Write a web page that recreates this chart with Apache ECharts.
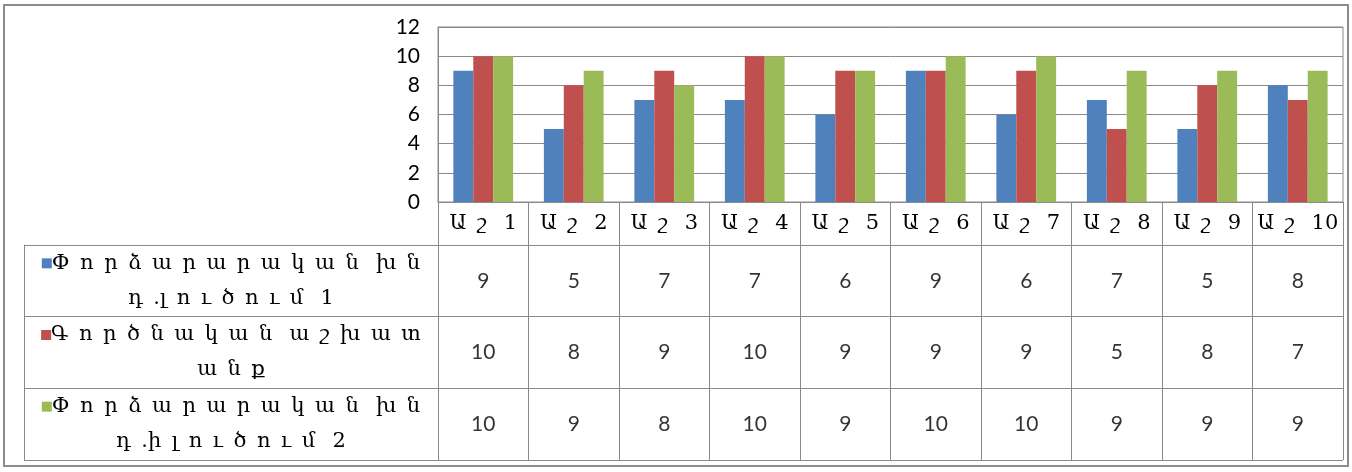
<!DOCTYPE html>
<html>
<head>
<meta charset="utf-8">
<script src="https://cdn.jsdelivr.net/npm/echarts@6/dist/echarts.min.js"></script>
<style>
  html, body { margin: 0; padding: 0; background: #fff; }
  #chart { width: 1352px; height: 472px; }
</style>
</head>
<body>
<div id="chart"></div>
<script>
// Categories (student groups) and the three score series
const categories = ['Աշ 1', 'Աշ 2', 'Աշ 3', 'Աշ 4', 'Աշ 5', 'Աշ 6', 'Աշ 7', 'Աշ 8', 'Աշ 9', 'Աշ 10'];
const seriesNames = [
  'Փորձարարական խն\nդ.լուծում 1',
  'Գործնական աշխատ\nանք',
  'Փորձարարական խն\nդ.իլուծում 2'
];
const experiment1 = [9, 5, 7, 7, 6, 9, 6, 7, 5, 8];
const practical = [10, 8, 9, 10, 9, 9, 9, 5, 8, 7];
const experiment2 = [10, 9, 8, 10, 9, 10, 10, 9, 9, 9];
const yTicks = [0, 2, 4, 6, 8, 10, 12];

const colors = ['#4F81BD', '#C0504D', '#9BBB59'];
const lineColor = '#8a8a8a';
const numFont = 'Lato, "DejaVu Serif"';
const armFont = '"DejaVu Serif", Lato';

// Spread Armenian letters apart the way the original font lays them out
function spread(s) {
  return s.replace(/ /g, '\u2002 ').replace(/([\u0531-\u058F])(?=[^\s\u2002])/g, '$1\u2002');
}

const allValues = [experiment1, practical, experiment2];

// Table cells: one point per (category, series) holding the value
const tableData = [];
allValues.forEach(function (vals, i) {
  vals.forEach(function (v, j) {
    tableData.push([categories[j], seriesNames[i], v]);
  });
});

const rich = { txt: { fontFamily: armFont, fontSize: 21, color: '#000', lineHeight: 35 } };
colors.forEach(function (c, i) {
  rich['s' + i] = { width: 10, height: 10, backgroundColor: c };
});

const chart = echarts.init(document.getElementById('chart'), null, { renderer: 'canvas' });

chart.setOption({
  animation: false,
  backgroundColor: '#fff',
  grid: [
    { left: 438, right: 9, top: 27, height: 175, show: true, borderColor: lineColor, borderWidth: 1 },
    { left: 438, right: 9, top: 245, height: 215 }
  ],
  xAxis: [
    {
      gridIndex: 0, type: 'category', data: categories,
      axisLine: { lineStyle: { color: lineColor } },
      axisTick: { show: true, interval: 0, length: 43, lineStyle: { color: lineColor } },
      axisLabel: {
        interval: 0, margin: 11, fontSize: 21, color: '#000', fontFamily: armFont,
        formatter: function (v) { return spread(v); }
      }
    },
    {
      gridIndex: 1, type: 'category', data: categories,
      axisLine: { show: false }, axisTick: { show: false }, axisLabel: { show: false },
      splitLine: { show: true, interval: 0, lineStyle: { color: lineColor } }
    }
  ],
  yAxis: [
    {
      gridIndex: 0, type: 'value', min: yTicks[0], max: yTicks[yTicks.length - 1], interval: 2,
      axisLine: { show: true, lineStyle: { color: lineColor } },
      axisTick: { show: false },
      splitLine: { show: true, lineStyle: { color: lineColor } },
      axisLabel: { margin: 18, fontSize: 21, color: '#000', fontFamily: numFont }
    },
    {
      gridIndex: 1, type: 'category', data: seriesNames, inverse: true,
      axisLine: { show: true, lineStyle: { color: lineColor } },
      axisTick: { show: true, interval: 0, length: 414, lineStyle: { color: lineColor } },
      splitLine: { show: true, interval: 0, lineStyle: { color: lineColor } },
      axisLabel: {
        interval: 0, margin: 207, align: 'center',
        formatter: function (v, idx) { return '{s' + idx + '|}{txt|' + spread(v).replace('\n', '}\n{txt|') + '}'; },
        rich: rich
      }
    },
    {
      gridIndex: 1, type: 'category', data: seriesNames, inverse: true, position: 'left', offset: 414,
      axisLine: { show: true, lineStyle: { color: lineColor } },
      axisTick: { show: false }, axisLabel: { show: false }
    }
  ],
  series: [
    { name: seriesNames[0], type: 'bar', xAxisIndex: 0, yAxisIndex: 0, data: experiment1, itemStyle: { color: colors[0] }, barGap: '0%', barCategoryGap: '34%' },
    { name: seriesNames[1], type: 'bar', xAxisIndex: 0, yAxisIndex: 0, data: practical, itemStyle: { color: colors[1] }, barGap: '0%', barCategoryGap: '34%' },
    { name: seriesNames[2], type: 'bar', xAxisIndex: 0, yAxisIndex: 0, data: experiment2, itemStyle: { color: colors[2] }, barGap: '0%', barCategoryGap: '34%' },
    {
      type: 'scatter', xAxisIndex: 1, yAxisIndex: 1, data: tableData,
      symbol: 'rect', symbolSize: 1, itemStyle: { color: 'rgba(0,0,0,0)' },
      label: {
        show: true, position: 'inside', fontSize: 21, color: '#000', fontFamily: numFont,
        formatter: function (p) { return String(p.value[2]); }
      },
      emphasis: { disabled: true }
    }
  ],
  graphic: [
    {
      type: 'rect', silent: true,
      shape: { x: 4, y: 5, width: 1344, height: 461 },
      style: { fill: 'none', stroke: '#8c8c8c', lineWidth: 2 }
    }
  ]
});
</script>
</body>
</html>
